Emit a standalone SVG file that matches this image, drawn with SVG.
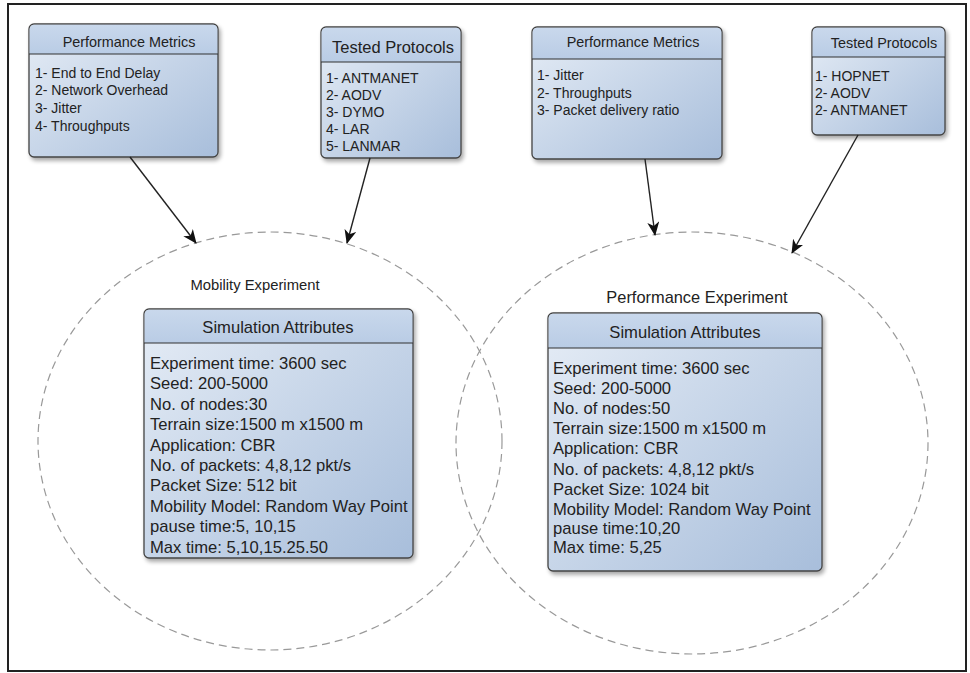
<svg xmlns="http://www.w3.org/2000/svg" width="970" height="673" viewBox="0 0 970 673">
<defs>
<linearGradient id="body" x1="0" y1="0" x2="1" y2="1">
<stop offset="0" stop-color="#e6edf6"/>
<stop offset="1" stop-color="#a8bedb"/>
</linearGradient>
<linearGradient id="head" x1="0" y1="0" x2="0" y2="1">
<stop offset="0" stop-color="#c9d8ec"/>
<stop offset="1" stop-color="#b9cce5"/>
</linearGradient>
<filter id="sh" x="-10%" y="-10%" width="130%" height="130%">
<feGaussianBlur in="SourceAlpha" stdDeviation="2"/>
<feOffset dx="2" dy="3" result="b"/>
<feComponentTransfer><feFuncA type="linear" slope="0.35"/></feComponentTransfer>
<feMerge><feMergeNode/><feMergeNode in="SourceGraphic"/></feMerge>
</filter>
<marker id="arr" markerWidth="14" markerHeight="12" refX="13" refY="6" orient="auto" markerUnits="userSpaceOnUse">
<path d="M0,0 L14,6 L0,12 L4,6 Z" fill="#111"/>
</marker>
</defs>
<style>
.frame{fill:#fff;stroke:#222;stroke-width:2}
.box{fill:url(#body);stroke:#444;stroke-width:1.3;filter:url(#sh)}
.hd{fill:url(#head)}
.sep{stroke:#333;stroke-width:1.2}
.t{font-family:"Liberation Sans",Arial,sans-serif;fill:#222}
.s{font-size:14px}
.st{font-size:14.4px}
.tt{font-size:16.5px}
.b{font-size:16.6px}
.circ{fill:none;stroke:#999;stroke-width:1.2;stroke-dasharray:8 5}
.con{stroke:#222;stroke-width:1.4;fill:none}
</style>
<rect class="frame" x="8" y="4" width="958" height="667"/>
<ellipse class="circ" cx="270" cy="441" rx="232" ry="209"/>
<ellipse class="circ" cx="692" cy="443" rx="236" ry="211"/>
<text class="t" font-size="14.8" x="255" y="290" text-anchor="middle">Mobility Experiment</text>
<text class="t" font-size="16.4" x="697" y="303" text-anchor="middle">Performance Experiment</text>
<g id="pm1">
<rect class="box" x="29" y="24" width="189" height="133" rx="5"/>
<path class="hd" d="M34,24.7 H213 A4.3,4.3 0 0 1 217.3,29 V54 H29.7 V29 A4.3,4.3 0 0 1 34,24.7 Z"/>
<line class="sep" x1="29" y1="54" x2="218" y2="54"/>
<text class="t st" x="129" y="46.5" text-anchor="middle">Performance Metrics</text>
<text class="t s" x="35" y="77.5">1- End to End Delay</text>
<text class="t s" x="35" y="95">2- Network Overhead</text>
<text class="t s" x="35" y="113">3- Jitter</text>
<text class="t s" x="35" y="131">4-  Throughputs</text>
</g>
<g id="tp1">
<rect class="box" x="321" y="27" width="140" height="131" rx="5"/>
<path class="hd" d="M326,27.7 H456 A4.3,4.3 0 0 1 460.3,32 V62 H321.7 V32 A4.3,4.3 0 0 1 326,27.7 Z"/>
<line class="sep" x1="321" y1="62" x2="461" y2="62"/>
<text class="t tt" x="393" y="53" text-anchor="middle">Tested Protocols</text>
<text class="t s" x="326" y="83">1- ANTMANET</text>
<text class="t s" x="326" y="100">2- AODV</text>
<text class="t s" x="326" y="117">3- DYMO</text>
<text class="t s" x="326" y="134">4- LAR</text>
<text class="t s" x="326" y="151">5- LANMAR</text>
</g>
<g id="pm2">
<rect class="box" x="532" y="27" width="190" height="132" rx="5"/>
<path class="hd" d="M537,27.7 H717 A4.3,4.3 0 0 1 721.3,32 V59 H532.7 V32 A4.3,4.3 0 0 1 537,27.7 Z"/>
<line class="sep" x1="532" y1="59" x2="722" y2="59"/>
<text class="t st" x="633" y="47" text-anchor="middle">Performance Metrics</text>
<text class="t s" x="537" y="80">1- Jitter</text>
<text class="t s" x="537" y="98">2-  Throughputs</text>
<text class="t s" x="537" y="115">3-  Packet delivery ratio</text>
</g>
<g id="tp2">
<rect class="box" x="812" y="27" width="133" height="108" rx="5"/>
<path class="hd" d="M817,27.7 H940 A4.3,4.3 0 0 1 944.3,32 V57 H812.7 V32 A4.3,4.3 0 0 1 817,27.7 Z"/>
<line class="sep" x1="812" y1="57" x2="945" y2="57"/>
<text class="t st" x="884" y="48" text-anchor="middle">Tested Protocols</text>
<text class="t s" x="815" y="81">1- HOPNET</text>
<text class="t s" x="815" y="98">2- AODV</text>
<text class="t s" x="815" y="115">2- ANTMANET</text>
</g>
<g id="sa1">
<rect class="box" x="144" y="309" width="269" height="249" rx="5"/>
<path class="hd" d="M149,309.7 H408 A4.3,4.3 0 0 1 412.3,314 V343 H144.7 V314 A4.3,4.3 0 0 1 149,309.7 Z"/>
<line class="sep" x1="144" y1="343" x2="413" y2="343"/>
<text class="t b" x="278" y="333" text-anchor="middle">Simulation Attributes</text>
<text class="t b" x="150" y="369">Experiment time: 3600 sec</text>
<text class="t b" x="150" y="389.4">Seed: 200-5000</text>
<text class="t b" x="150" y="409.8">No. of nodes:30</text>
<text class="t b" x="150" y="430.2">Terrain size:1500 m x1500 m</text>
<text class="t b" x="150" y="450.6">Application: CBR</text>
<text class="t b" x="150" y="471">No. of packets: 4,8,12 pkt/s</text>
<text class="t b" x="150" y="491.4">Packet Size: 512 bit</text>
<text class="t b" x="150" y="511.8">Mobility Model: Random Way Point</text>
<text class="t b" x="150" y="532.2">pause  time:5, 10,15</text>
<text class="t b" x="150" y="552.6">Max time:  5,10,15.25.50</text>
</g>
<g id="sa2">
<rect class="box" x="548" y="313" width="274" height="258" rx="5"/>
<path class="hd" d="M553,313.7 H817 A4.3,4.3 0 0 1 821.3,318 V348 H548.7 V318 A4.3,4.3 0 0 1 553,313.7 Z"/>
<line class="sep" x1="548" y1="348" x2="822" y2="348"/>
<text class="t b" x="685" y="338" text-anchor="middle">Simulation Attributes</text>
<text class="t b" x="553" y="374">Experiment time: 3600 sec</text>
<text class="t b" x="553" y="394">Seed: 200-5000</text>
<text class="t b" x="553" y="414">No. of nodes:50</text>
<text class="t b" x="553" y="434">Terrain size:1500 m x1500 m</text>
<text class="t b" x="553" y="454">Application: CBR</text>
<text class="t b" x="553" y="475">No. of packets: 4,8,12 pkt/s</text>
<text class="t b" x="553" y="495">Packet Size: 1024 bit</text>
<text class="t b" x="553" y="515">Mobility Model: Random Way Point</text>
<text class="t b" x="553" y="534">pause  time:10,20</text>
<text class="t b" x="553" y="553">Max time: 5,25</text>
</g>
<g id="connectors">
<line class="con" x1="130" y1="157" x2="196" y2="243" marker-end="url(#arr)"/>
<line class="con" x1="370" y1="158" x2="347" y2="243" marker-end="url(#arr)"/>
<line class="con" x1="645" y1="159" x2="655" y2="235" marker-end="url(#arr)"/>
<line class="con" x1="858" y1="135" x2="792" y2="253" marker-end="url(#arr)"/>
</g>
</svg>
